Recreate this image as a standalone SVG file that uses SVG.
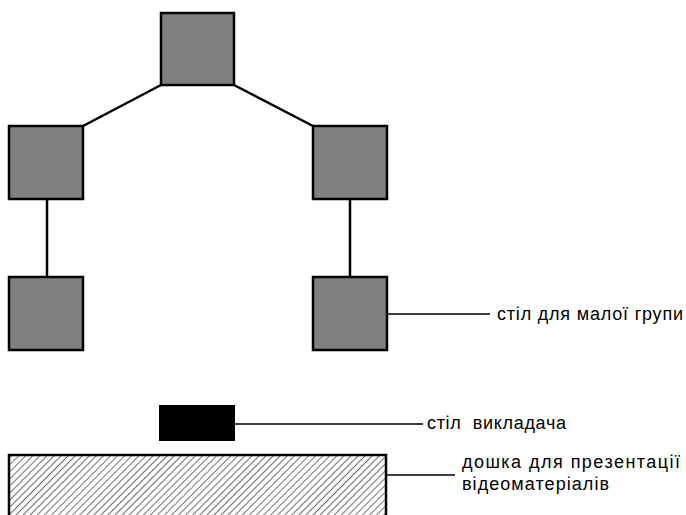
<svg xmlns="http://www.w3.org/2000/svg" width="686" height="515" viewBox="0 0 686 515">
<style>
.tbl{fill:#808080;stroke:#000;stroke-width:2.5}
.con{stroke:#000;stroke-width:2.5;fill:none}
.lead{stroke:#000;stroke-width:1.5;fill:none}
.lbl{font-family:"Liberation Sans",Arial,sans-serif;font-size:18px;fill:#000}
</style>
<defs>
<pattern id="hatch" patternUnits="userSpaceOnUse" width="5" height="5" patternTransform="rotate(45)">
<rect width="5" height="5" fill="#fff"/>
<line x1="0" y1="0" x2="0" y2="5" stroke="#707070" stroke-width="2"/>
</pattern>
</defs>
<g id="connectors">
<line class="con" x1="161" y1="85" x2="83" y2="126"/>
<line class="con" x1="234" y1="85" x2="313" y2="126"/>
<line class="con" x1="47" y1="199" x2="47" y2="277"/>
<line class="con" x1="350" y1="199" x2="350" y2="277"/>
<line class="lead" x1="387" y1="314" x2="490" y2="314"/>
<line class="lead" x1="235" y1="424" x2="423" y2="424"/>
<line class="lead" x1="386" y1="475" x2="455" y2="475"/>
</g>
<g id="table-top"><rect class="tbl" x="161" y="13" width="73" height="72"/></g>
<g id="table-left1"><rect class="tbl" x="9" y="126" width="74" height="73"/></g>
<g id="table-right1"><rect class="tbl" x="313" y="126" width="74" height="73"/></g>
<g id="table-left2"><rect class="tbl" x="9" y="277" width="74" height="73"/></g>
<g id="table-right2"><rect class="tbl" x="313" y="277" width="74" height="73"/></g>
<g id="teacher-desk"><rect x="159" y="405" width="76" height="36" fill="#000"/></g>
<g id="board"><rect x="9" y="455" width="377" height="80" fill="url(#hatch)" stroke="#000" stroke-width="2.5"/></g>
<g id="labels">
<text class="lbl" x="497" y="320" textLength="186" lengthAdjust="spacing">стіл для малої групи</text>
<text class="lbl" x="427" y="429" textLength="139" lengthAdjust="spacing" xml:space="preserve">стіл  викладача</text>
<text class="lbl" x="462" y="468" textLength="218" lengthAdjust="spacing">дошка для презентації</text>
<text class="lbl" x="462" y="490" textLength="147" lengthAdjust="spacing">відеоматеріалів</text>
</g>
</svg>
